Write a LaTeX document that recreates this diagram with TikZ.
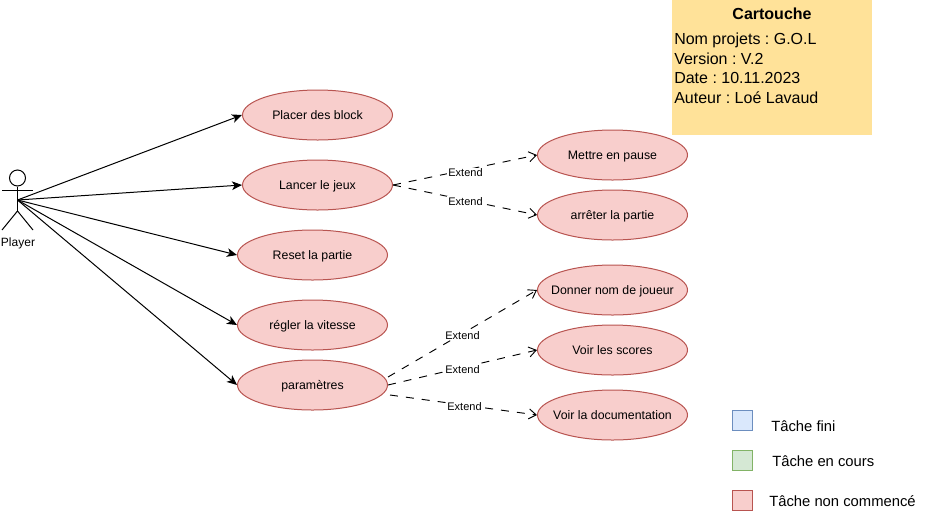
\documentclass[tikz,border=0pt]{standalone}
\usepackage{fontspec}
\setmainfont{Liberation Sans}
\usetikzlibrary{arrows.meta,shapes.geometric}
\definecolor{redfill}{HTML}{F8CECC}
\definecolor{redline}{HTML}{B85450}
\definecolor{bluefill}{HTML}{DAE8FC}
\definecolor{blueline}{HTML}{6C8EBF}
\definecolor{greenfill}{HTML}{D5E8D4}
\definecolor{greenline}{HTML}{82B366}
\definecolor{noteyellow}{HTML}{FFE299}
\tikzset{
  x=0.75pt,y=-0.75pt,
  usecase/.style={ellipse,draw=redline,fill=redfill,line width=0.75pt,minimum width=112.5pt,minimum height=37.5pt,inner xsep=-30pt,inner ysep=0pt,text height=9pt,text depth=1.6pt,font=\fontsize{9.25}{11}\selectfont},
  assoc/.style={draw=black,line width=0.75pt,-{Stealth[length=7.5pt,width=6.5pt,inset=2pt]}},
  extendline/.style={draw=black,line width=0.7pt,dash pattern=on 6pt off 6pt,-{Straight Barb[length=5.5pt,width=7.5pt]}},
  extendlabel/.style={fill=white,inner xsep=1pt,inner ysep=0.5pt,anchor=base,font=\fontsize{8.25}{10}\selectfont},
  actorline/.style={draw=black,line width=0.75pt},
  legendbox/.style={draw,line width=0.75pt,minimum size=15pt,inner sep=0pt,anchor=north west},
  legendtext/.style={inner sep=0pt,font=\fontsize{11.1}{13}\selectfont},
}
\begin{document}
\begin{tikzpicture}
\frenchspacing
\useasboundingbox (0,0) rectangle (927,515);
% cartouche
\node[fill=noteyellow,minimum width=150pt,minimum height=101.25pt,inner sep=0pt,anchor=north west] (note) at (672,0) {};
\node[inner sep=0pt,font=\fontsize{12}{14}\bfseries\selectfont] (notetitle) at (772,13.5) {Cartouche};
\node[inner sep=0pt,anchor=north west,align=left,font=\fontsize{12}{14.6}\selectfont] (notebody) at (674,33) {Nom projets : G.O.L\\Version : V.2\\Date : 10.11.2023\\Auteur : Loé Lavaud};
% actor
\node[circle,draw=black,line width=0.75pt,minimum size=12pt,inner sep=0pt] (head) at (17.5,178) {};
\coordinate (armL) at (2,190);
\coordinate (armR) at (33,190);
\coordinate (hip) at (17.5,211);
\coordinate (legL) at (2,230);
\coordinate (legR) at (33,230);
\coordinate (actor) at (17.5,200);
\draw[actorline] (head.south) -- (hip);
\draw[actorline] (armL) -- (armR);
\draw[actorline] (legL) -- (hip) -- (legR);
\node[inner sep=0pt,font=\fontsize{9}{11}\selectfont] (player) at (18,243) {Player};
% use cases
\node[usecase] (placer) at (317.5,115) {Placer des block};
\node[usecase] (lancer) at (317.5,185) {Lancer le jeux};
\node[usecase] (reset) at (312.5,255) {Reset la partie};
\node[usecase] (regler) at (312.5,325) {régler la vitesse};
\node[usecase] (param) at (312.5,385) {paramètres};
\node[usecase] (pause) at (612.5,155) {Mettre en pause};
\node[usecase] (stop) at (612.5,215) {arrêter la partie};
\node[usecase] (nom) at (612.5,290) {Donner nom de joueur};
\node[usecase] (scores) at (612.5,350) {Voir les scores};
\node[usecase] (doc) at (612.5,415) {Voir la documentation};
% associations
\draw[assoc] (actor) -- (placer.west);
\draw[assoc] (actor) -- (lancer.west);
\draw[assoc] (actor) -- (reset.west);
\draw[assoc] (actor) -- (regler.west);
\draw[assoc] (actor) -- (param.west);
% extends
\coordinate (pa) at (388,377);
\coordinate (pb) at (388,385);
\coordinate (pc) at (390,395);
\draw[extendline] (lancer.east) -- (pause.west);
\draw[extendline] (lancer.east) -- (stop.west);
\draw[extendline] (pa) -- (nom.west);
\draw[extendline] (pb) -- (scores.west);
\draw[extendline] (pc) -- (doc.west);
\node[extendlabel] (e1) at (465.5,176.5) {Extend};
\node[extendlabel] (e2) at (465.5,205) {Extend};
\node[extendlabel] (e3) at (462.5,339) {Extend};
\node[extendlabel] (e4) at (462.5,373) {Extend};
\node[extendlabel] (e5) at (464.5,410) {Extend};
% legend
\node[legendbox,draw=blueline,fill=bluefill] (lb) at (732,410) {};
\node[legendbox,draw=greenline,fill=greenfill] (lg) at (732,450) {};
\node[legendbox,draw=redline,fill=redfill] (lr) at (732,490) {};
\node[legendtext,anchor=west] (tb) at (771,426) {Tâche fini};
\node[legendtext,anchor=west] (tg) at (772,461) {Tâche en cours};
\node[legendtext,anchor=west] (tr) at (769,501) {Tâche non commencé};
\end{tikzpicture}
\end{document}
